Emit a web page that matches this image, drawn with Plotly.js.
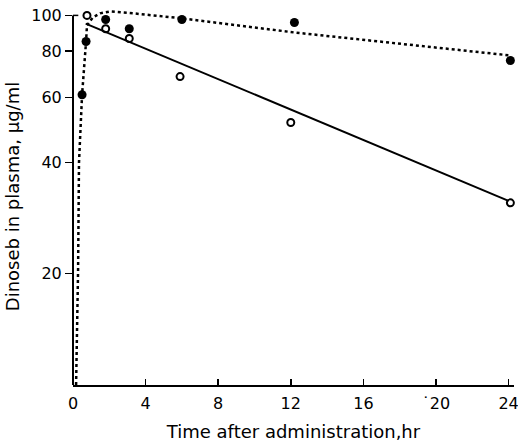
<!DOCTYPE html>
<html>
<head>
<meta charset="utf-8">
<script src="https://cdn.plot.ly/plotly-3.0.1.min.js"></script>
<style>html,body{margin:0;padding:0;background:#fff;}#chart{width:518px;height:442px;}</style>
</head>
<body>
<div id="chart"></div>
<script>
// Filled circles (observed)
var filledX = [0.5, 0.72, 1.8, 3.1, 6.0, 12.2, 24.1];
var filledY = [61, 85, 97.5, 92, 97.5, 95.7, 75.5];
// Open circles (observed)
var openX = [0.77, 1.8, 3.1, 5.9, 12.0, 24.1];
var openY = [100, 92, 86.6, 68.3, 51.3, 31.1];
// Solid regression line (open circles)
var solidX = [0.7, 24];
var solidY = [95, 31.5];
// Dotted curve (filled circles)
var dotX = [0.17, 0.28, 0.33, 0.5, 0.72, 0.77, 1.1, 1.49, 2.04, 3.3, 6.05, 12.2, 24.1];
var dotY = [10, 20.4, 40, 61, 85, 94, 98.8, 101.3, 102.5, 101.3, 98.1, 89.9, 77.9];
// Ticks
var xTickVals = [0, 4, 8, 12, 16, 20, 24];
var xTickText = ["0", "4", "8", "12", "16", "˙20", "24"];
var yTickVals = [20, 40, 60, 80, 100];
var yTickText = ["20", "40", "60", "80", "100"];

var fontFam = "DejaVu Sans, sans-serif";
var traces = [
  {x: dotX, y: dotY, mode: "lines", line: {color: "#000", width: 2.5, dash: "dot"}, hoverinfo: "skip"},
  {x: solidX, y: solidY, mode: "lines", line: {color: "#000", width: 2}, hoverinfo: "skip"},
  {x: filledX, y: filledY, mode: "markers", marker: {symbol: "circle", size: 9, color: "#000"}, cliponaxis: false},
  {x: openX, y: openY, mode: "markers", marker: {symbol: "circle-open", size: 7, color: "#000", line: {width: 2, color: "#000"}}, cliponaxis: false}
];
var xMax = 24.3;
var layout = {
  width: 518, height: 442,
  margin: {l: 73, r: 518 - 73 - 436 * xMax / 24, t: 8, b: 57},
  paper_bgcolor: "#fff", plot_bgcolor: "#fff",
  showlegend: false,
  font: {family: fontFam, color: "#000", size: 15},
  xaxis: {
    range: [0, xMax], tickvals: xTickVals, ticktext: xTickText,
    ticks: "inside", ticklen: 6, tickwidth: 1.5, tickcolor: "#000",
    showgrid: false, zeroline: false, showline: true, linewidth: 2, linecolor: "#000",
    tickfont: {family: fontFam, size: 16}, ticklabelstandoff: 3, ticklabeloverflow: "allow",
    title: {text: "Time after administration,hr", font: {family: fontFam, size: 18}, standoff: 14}
  },
  yaxis: {
    type: "log", range: [1, 2.02], tickvals: yTickVals, ticktext: yTickText,
    ticks: "outside", ticklen: 7, tickwidth: 1.5, tickcolor: "#000",
    showgrid: false, zeroline: false, showline: false,
    tickfont: {family: fontFam, size: 16},
    title: {text: "Dinoseb in plasma, μg/ml", font: {family: fontFam, size: 18}, standoff: 6}
  },
  shapes: [
    {type: "line", xref: "paper", yref: "paper", x0: 0, x1: 0, y0: 0, y1: 1/1.02, line: {color: "#000", width: 2}},
    {type: "line", xref: "paper", yref: "paper", x0: 0, x1: 0.012, y0: 1/1.02, y1: 1/1.02, line: {color: "#000", width: 1.5}}
  ]
};
Plotly.newPlot("chart", traces, layout, {displayModeBar: false, staticPlot: true});
</script>
</body>
</html>
